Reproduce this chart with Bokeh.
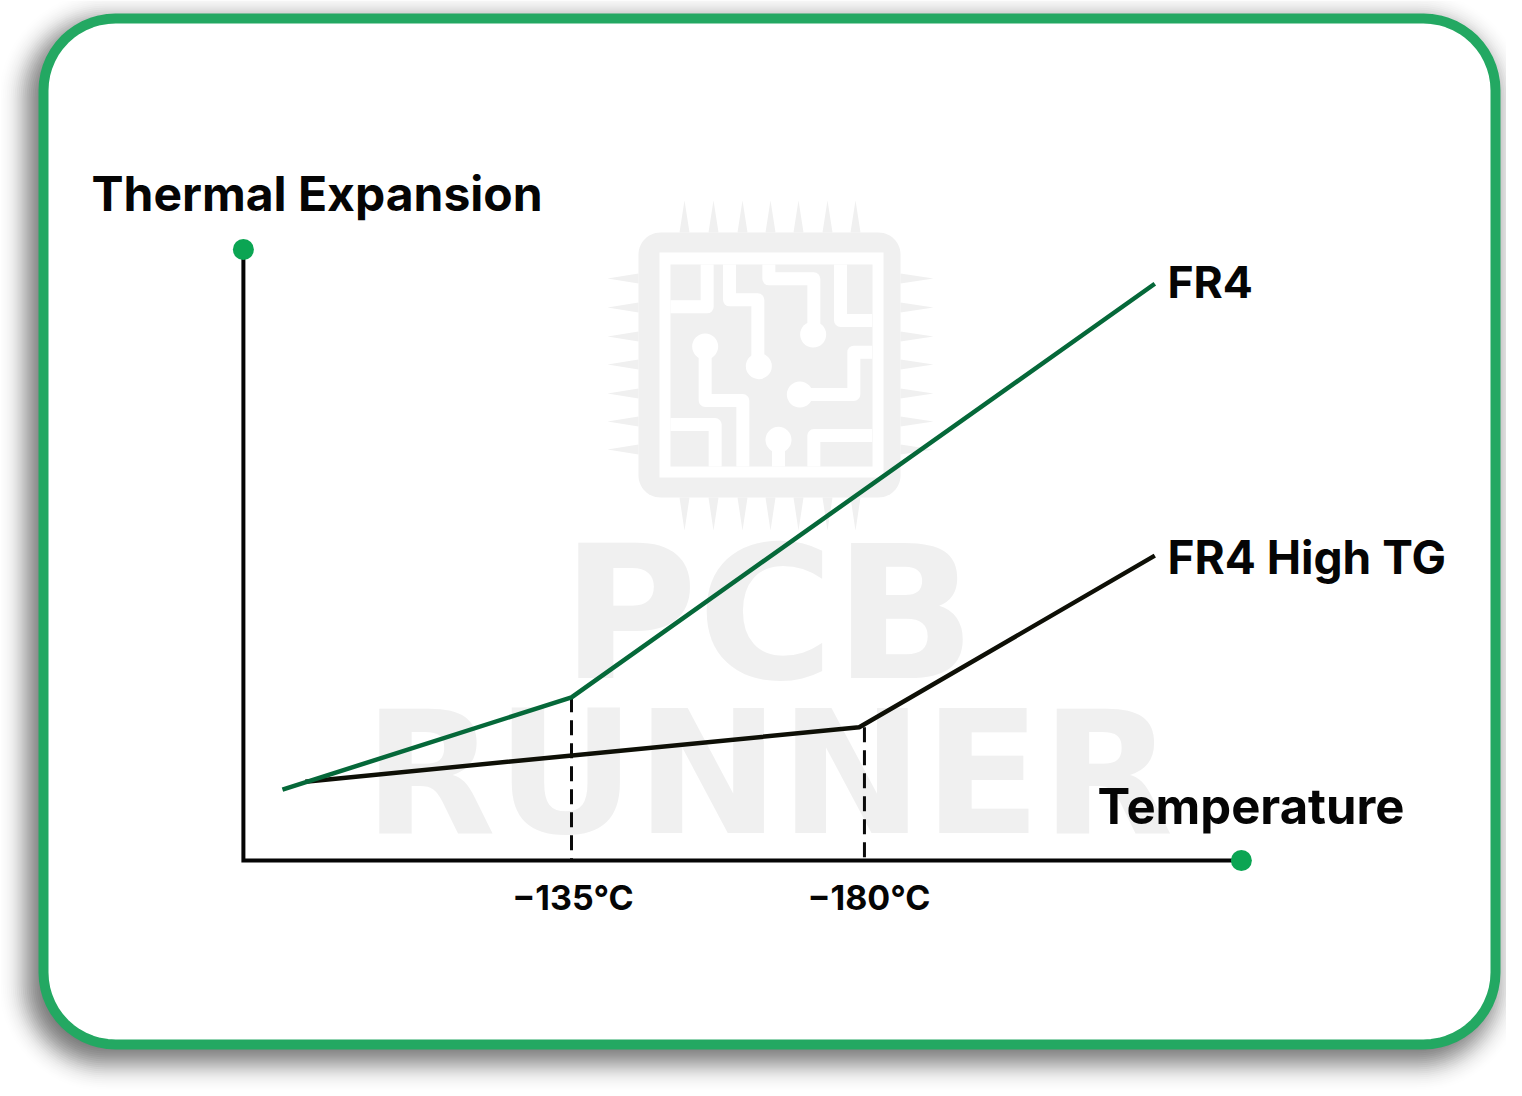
from bokeh.plotting import figure
from bokeh.models import Range1d
from bokeh.core.properties import value
from bokeh.embed import file_html
from bokeh.resources import INLINE
import math

# ---- chart data (temperature in deg C, expansion in relative units) ----
fr4_temp = [90.6, 135.0, 224.6]
fr4_exp = [11.6, 26.7, 94.4]
hightg_temp = [94.1, 179.2, 224.6]
hightg_exp = [12.9, 21.8, 49.9]
tg_temps = [135.0, 180.0]
tg_exp_top = [26.7, 21.8]
tick_labels = ["\u2212135\u00b0C", "\u2212180\u00b0C"]
axis_temp = [84.6, 84.6, 237.9]
axis_exp = [100.0, 0.0, 0.0]
axis_dots_temp = [84.6, 237.9]
axis_dots_exp = [100.0, 0.0]
series_names = ["FR4", "FR4 High TG"]
y_title = "Thermal Expansion"
x_title = "Temperature"

W, H = 1506, 1090
PX_PER_DEG = 6.51
PX_PER_UNIT = 6.11
LABEL_FONT = value("Inter")

def tx(px):
    return 135.0 + (px - 571.0) / PX_PER_DEG

def ey(py):
    return (860.0 - py) / PX_PER_UNIT

p = figure(width=W, height=H, output_backend="svg", toolbar_location=None,
           x_range=Range1d(tx(0), tx(W)), y_range=Range1d(ey(H), ey(0)),
           min_border=0, outline_line_color=None, background_fill_color="white",
           border_fill_color="white")
p.axis.visible = False
p.grid.visible = False
p.extra_x_ranges["page"] = Range1d(0, W)
p.extra_y_ranges["page"] = Range1d(H, 0)
PAGE = dict(x_range_name="page", y_range_name="page")

def rrect(x0, y0, x1, y1, r, n=14):
    xs, ys = [], []
    corners = [(x1 - r, y0 + r, -90), (x1 - r, y1 - r, 0), (x0 + r, y1 - r, 90), (x0 + r, y0 + r, 180)]
    for cx, cy, a0 in corners:
        for i in range(n + 1):
            a = math.radians(a0 + 90 * i / n)
            xs.append(cx + r * math.cos(a))
            ys.append(cy + r * math.sin(a))
    return xs, ys

# soft drop shadow behind the card
for g in range(32, -33, -2):
    alpha = 0.045 * math.exp(-(g / 14.0) ** 2 / 2)
    xs, ys = rrect(38 - 8 - g, 13 + 10 - g, 1500 - 8 + g, 1049 + 10 + g, max(75 + g, 20))
    p.patch(xs, ys, fill_color="black", fill_alpha=alpha, line_color=None, **PAGE)

# card
xs, ys = rrect(43, 18, 1495, 1044, 72)
p.patch(xs, ys, fill_color="white", line_color="#23a862", line_width=10, **PAGE)

# watermark
WM = "#f0f0f0"
xs, ys = rrect(638, 232, 900, 497, 22)
p.patch(xs, ys, fill_color=WM, line_color=None, **PAGE)
p.quad(left=[659], right=[883], top=[252], bottom=[477], fill_color="white", line_color=None, **PAGE)
p.quad(left=[670], right=[872], top=[264], bottom=[466], fill_color=WM, line_color=None, **PAGE)

px_pins = [684, 713, 742, 770, 798, 827, 855]
py_pins = [278, 307, 336, 364, 393, 421, 449]
pin_x, pin_y = [], []
for c in px_pins:
    pin_x += [[c - 5, c, c + 5], [c - 5, c, c + 5]]
    pin_y += [[232, 200, 232], [497, 530, 497]]
for c in py_pins:
    pin_x += [[638, 607, 638], [900, 933, 900]]
    pin_y += [[c - 5, c, c + 5], [c - 5, c, c + 5]]
p.patches(pin_x, pin_y, fill_color=WM, line_color=None, **PAGE)

def zx(v):
    return 600 + v / 3

def zy(v):
    return 190 + v / 3

traces = [
    [(320, 222), (320, 349), (210, 349)],
    [(387, 222), (387, 328), (472, 328), (472, 525)],
    [(505, 222), (505, 265), (640, 265), (640, 430)],
    [(720, 222), (720, 390), (815, 390)],
    [(314, 468), (314, 630), (427, 630), (427, 828)],
    [(210, 702), (344, 702), (344, 828)],
    [(598, 612), (760, 612), (760, 485), (815, 485)],
    [(534, 748), (534, 828)],
    [(640, 828), (640, 735), (815, 735)],
]
p.multi_line([[zx(a) for a, _ in t] for t in traces], [[zy(b) for _, b in t] for t in traces],
             line_color="white", line_width=13, line_join="round", line_cap="butt", **PAGE)
pads = [(638, 432), (475, 527), (314, 468), (598, 612), (534, 748)]
p.scatter([zx(a) for a, _ in pads], [zy(b) for _, b in pads], size=26, fill_color="white",
          line_color=None, **PAGE)

# the browser places alphabetic text lower than asked by a share of the font size
INTER_SHIFT = 0.405
DEJAVU_SHIFT = 0.36

p.text([768], [680 - DEJAVU_SHIFT * 186], text=["PCB"], text_align="center", text_baseline="alphabetic",
       text_font=value("DejaVu Sans"), text_font_style="bold", text_font_size="186px",
       text_color=WM, **PAGE)
p.text([768], [835 - DEJAVU_SHIFT * 172], text=["RUNNER"], text_align="center", text_baseline="alphabetic",
       text_font=value("DejaVu Sans"), text_font_style="bold", text_font_size="172px",
       text_color=WM, **PAGE)

# dashed guide lines at the glass transition temperatures
for t, top in zip(tg_temps, tg_exp_top):
    p.line([t, t], [top, 0], line_color="#0b0b0b", line_width=3, line_dash="15 8")

# axes
p.line(axis_temp, axis_exp, line_color="#050505", line_width=4, line_join="miter")
p.scatter(axis_dots_temp, axis_dots_exp, size=21, fill_color="#0ba553", line_color=None)

# series
p.line(hightg_temp, hightg_exp, line_color="#0e0f06", line_width=4.5)
p.line(fr4_temp, fr4_exp, line_color="#056839", line_width=4.5)

# texts
def label(x, base, txt, size):
    p.text([x], [base - INTER_SHIFT * size], text=[txt], text_font=LABEL_FONT, text_font_style="bold",
           text_font_size=f"{size}px", text_color="#050505", text_baseline="alphabetic",
           text_align="left", **PAGE)

label(91, 212, y_title, 48)
label(1167, 300, series_names[0], 44.5)
label(1167, 575, series_names[1], 46)
label(1097, 826, x_title, 49)
p.text(tg_temps, [ey(911 - INTER_SHIFT * 34)] * 2, text=tick_labels, x_offset=[1.5, 4.5],
       text_font=LABEL_FONT, text_font_style="bold", text_font_size="34px",
       text_color="#050505", text_baseline="alphabetic", text_align="center")

open("out.html", "w").write(file_html(p, INLINE))
